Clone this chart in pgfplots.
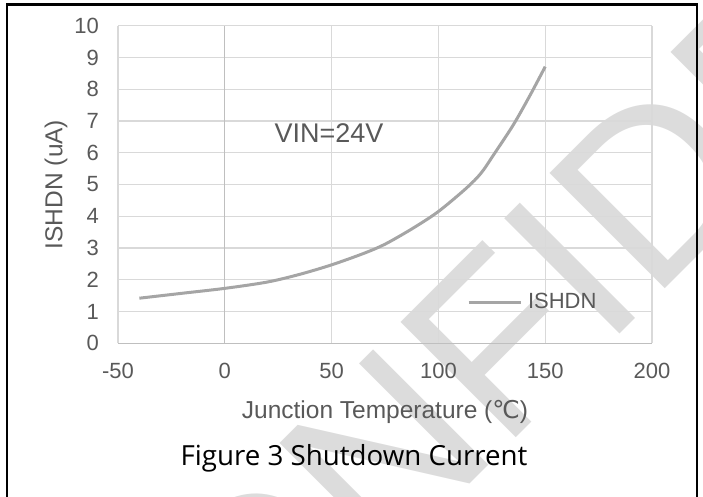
\documentclass[border=0pt]{standalone}
\usepackage{pgfplots}
\pgfplotsset{compat=1.18}
\usepackage{fontspec}
\setmainfont{Liberation Sans}
\newfontfamily\titlefont{Open Sans}
\newfontfamily\dejavu{DejaVu Sans}
\definecolor{gridc}{HTML}{D9D9D9}
\definecolor{axc}{HTML}{BFBFBF}
\definecolor{txt}{HTML}{595959}
\definecolor{serc}{HTML}{A5A5A5}
\definecolor{wm}{HTML}{DCDCDC}
\begin{document}
\begin{tikzpicture}[x=1pt,y=1pt]
\useasboundingbox (0,0) rectangle (703,496);
\begin{scope}
\clip (0,0) rectangle (703,496);
\node[rotate=45, anchor=base west, inner sep=0pt, text=wm, font=\fontsize{237}{237}\selectfont] at (130,-328) {CONFIDENTIAL};
\end{scope}
\begin{axis}[
  at={(118pt,152.7pt)}, anchor=south west, scale only axis,
  width=534pt, height=317.6pt,
  xmin=-50, xmax=200, ymin=0, ymax=10,
  xtick={-50,0,50,100,150,200}, xticklabels={-50,0,50,100,150,200},
  ytick={0,1,2,3,4,5,6,7,8,9,10}, yticklabels={0,1,2,3,4,5,6,7,8,9,10},
  axis line style={draw=none}, major tick length=0pt,
  grid=major, major grid style={gridc, line width=1.3pt},
  extra x ticks={0}, extra x tick labels={},
  extra x tick style={grid=major, major grid style={axc, line width=1.3pt}},
  extra y ticks={0}, extra y tick labels={},
  extra y tick style={grid=major, major grid style={axc, line width=1.3pt}},
  tick label style={font=\fontsize{22}{22}\selectfont, text=txt, inner sep=0pt},
  yticklabel shift=19pt, xticklabel shift=20pt,
  xlabel={Junction Temperature ({\dejavu ℃})}, ylabel={ISHDN (uA)},
  label style={font=\fontsize{24.5}{24.5}\selectfont, text=txt, inner sep=0pt},
  xlabel style={at={(axis description cs:0.5,-0.2361)}, anchor=base},
  ylabel style={at={(axis description cs:-0.1161,0.5)}, anchor=center},
  legend style={at={(axis cs:113.3,1.30)}, anchor=west, draw=none, fill=none,
    inner sep=0pt, font=\fontsize{22}{22}\selectfont, text=txt,
    nodes={inner sep=0pt}, column sep=6pt},
  legend image code/.code={\draw[#1] (0pt,0pt) -- (52pt,0pt);},
]
\addplot[serc, line width=3pt, smooth] coordinates {
(-40,1.42) (-20,1.575) (0,1.73) (20,1.93) (35,2.17) (50,2.47) (65,2.83) (75,3.12)
(88,3.62) (100,4.15) (113,4.88) (120,5.36) (126,5.95) (135,6.87) (143,7.82) (150,8.71)};
\addlegendentry{ISHDN}
\node[anchor=base, font=\fontsize{27}{27}\selectfont, text=txt, inner sep=0pt] at (axis cs:48.8,6.32) {VIN=24V};
\end{axis}
\node[anchor=base, font=\titlefont\fontsize{27.7}{27.7}\selectfont, inner sep=0pt] at (354,31) {Figure 3 Shutdown Current};
\draw[line width=2.5pt, black] (7,-5) -- (7,491.5) -- (697,491.5) -- (697,-5);
\end{tikzpicture}
\end{document}
